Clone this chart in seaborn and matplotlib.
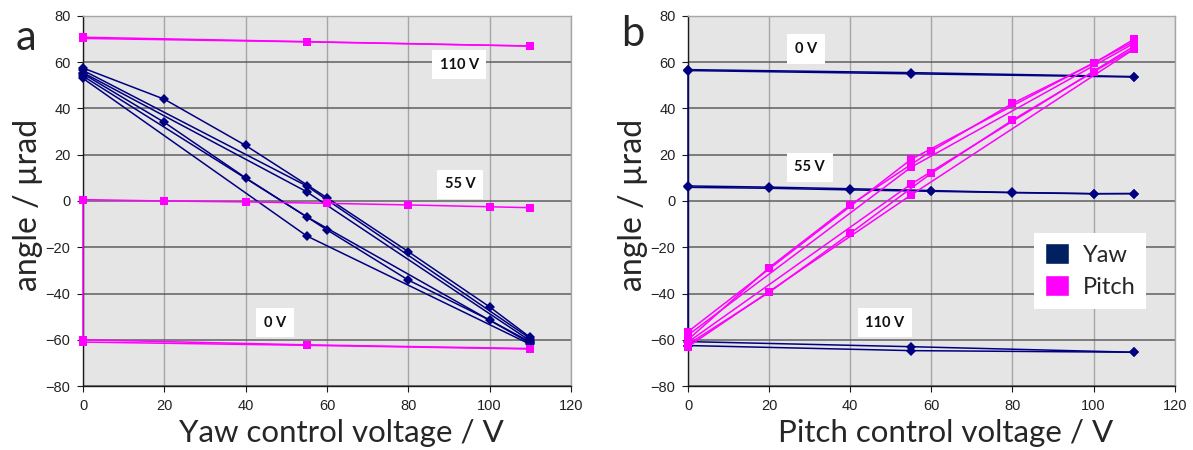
import matplotlib
matplotlib.use('Agg')
import matplotlib.pyplot as plt
from matplotlib.patches import Patch
import pandas as pd
import seaborn as sns

# control voltages used in the sweeps
v_steps = [0, 20, 40, 60, 80, 100, 110]
v_halves = [0, 55, 110]
v_retrace = [0, 0]

# panel a: yaw control voltage sweeps
a_yaw_steps = [[57.5, 44.0, 24.0, 1.4, -21.9, -45.8, -59.0],
               [55.0, 34.0, 10.0, -12.5, -34.2, -51.5, -61.0]]
a_yaw_halves = [[56.5, 6.5, -59.5], [55.5, 4.0, -60.5],
                [54.0, -6.8, -61.5], [53.0, -15.1, -62.0]]
a_pitch_steps = [[0.6, 0.0, -0.4, -1.0, -1.7, -2.5, -2.9]]
a_pitch_halves = [[70.8, 68.9, 67.0], [70.3, 68.8, 67.0],
                  [-60.0, -62.2, -63.8], [-61.0, -62.4, -64.0]]
a_pitch_retrace = [[0.6, -60.0]]
a_notes = ['110 V', '55 V', '0 V']
a_note_x = [92.5, 92.7, 47.2]
a_note_y = [59.0, 7.3, -52.7]

# panel b: pitch control voltage sweeps
b_yaw_steps = [[6.5, 6.0, 5.3, 4.5, 3.7, 3.2, 3.2],
               [5.9, 5.5, 4.8, 4.2, 3.6, 3.1, 3.2]]
b_yaw_halves = [[56.8, 55.5, 53.8], [56.4, 55.0, 53.6],
                [-60.8, -63.0, -65.4], [-62.5, -64.7, -65.4]]
b_yaw_retrace = [[56.8, -62.5]]
b_pitch_steps = [[-60.0, -28.8, -1.7, 21.6, 42.2, 59.5, 70.0],
                 [-62.0, -39.5, -14.0, 12.0, 35.0, 55.9, 66.0]]
b_pitch_halves = [[-56.5, 18.0, 69.0], [-58.0, 14.6, 68.2],
                  [-61.0, 7.3, 67.0], [-63.0, 2.6, 65.7]]
b_notes = ['0 V', '55 V', '110 V']
b_note_x = [29.1, 30.0, 48.5]
b_note_y = [65.7, 14.5, -52.7]

YAW = '#000080'
PITCH = '#ff00ff'

sns.set_theme(style='white')
plt.rcParams['font.family'] = ['Liberation Sans', 'DejaVu Sans']
LABEL_FONT = ['Lato', 'DejaVu Sans']


def draw_sweeps(ax, xs, sweeps, color, marker, ms):
    rows = [(i, x, y) for i, ys in enumerate(sweeps) for x, y in zip(xs, ys)]
    df = pd.DataFrame(rows, columns=['sweep', 'volt', 'angle'])
    sns.lineplot(data=df, x='volt', y='angle', units='sweep', estimator=None,
                 sort=False, color=color, marker=marker, markersize=ms,
                 markeredgewidth=0, linewidth=1.1, clip_on=False, zorder=3,
                 legend=False, ax=ax)


def style_axes(ax, xlabel):
    ax.set_facecolor('#e5e5e5')
    ax.set_xlim(0, 120)
    ax.set_ylim(-80, 80)
    ax.set_xticks(range(0, 121, 20))
    ax.set_yticks(range(-80, 81, 20))
    ax.xaxis.grid(True, color='#a6a6a6', linewidth=1.0)
    ax.yaxis.grid(True, color='#5f5f5f', linewidth=1.1)
    ax.set_axisbelow(True)
    for side in ['left', 'bottom']:
        ax.spines[side].set_color('#1a1a1a')
        ax.spines[side].set_linewidth(1.0)
    for side in ['top', 'right']:
        ax.spines[side].set_color('#a6a6a6')
        ax.spines[side].set_linewidth(1.0)
    ax.tick_params(axis='both', direction='out', length=4, width=0.8,
                   color='#1a1a1a', labelsize=10.5, labelcolor='#222222',
                   left=True, bottom=True, pad=5)
    ax.set_xlabel(xlabel, fontsize=22.5, family=LABEL_FONT, va='top')
    ax.xaxis.set_label_coords(0.53, -0.088)
    ax.set_ylabel('angle / µrad', fontsize=23, family=LABEL_FONT, va='center')
    ax.yaxis.set_label_coords(-0.112, 0.49)


def add_notes(ax, labels, xs, ys):
    for lab, x, y in zip(labels, xs, ys):
        ax.text(x, y, lab, ha='center', va='center', fontsize=10.5,
                fontweight='bold', family=LABEL_FONT, color='#111111',
                bbox=dict(facecolor='white', edgecolor='none', pad=5.5))


fig = plt.figure(figsize=(11.93, 4.5), dpi=100)
ax_a = fig.add_axes([0.0696, 0.1422, 0.409, 0.8223])
ax_b = fig.add_axes([0.5767, 0.1422, 0.408, 0.8223])

# panel a
draw_sweeps(ax_a, v_steps, a_yaw_steps, YAW, 'D', 5)
draw_sweeps(ax_a, v_halves, a_yaw_halves, YAW, 'D', 5)
draw_sweeps(ax_a, v_steps, a_pitch_steps, PITCH, 's', 6)
draw_sweeps(ax_a, v_halves, a_pitch_halves, PITCH, 's', 6)
draw_sweeps(ax_a, v_retrace, a_pitch_retrace, PITCH, 's', 6)
style_axes(ax_a, 'Yaw control voltage / V')
add_notes(ax_a, a_notes, a_note_x, a_note_y)

# panel b
draw_sweeps(ax_b, v_steps, b_yaw_steps, YAW, 'D', 5)
draw_sweeps(ax_b, v_halves, b_yaw_halves, YAW, 'D', 5)
draw_sweeps(ax_b, v_retrace, b_yaw_retrace, YAW, 'D', 5)
draw_sweeps(ax_b, v_steps, b_pitch_steps, PITCH, 's', 6)
draw_sweeps(ax_b, v_halves, b_pitch_halves, PITCH, 's', 6)
style_axes(ax_b, 'Pitch control voltage / V')
add_notes(ax_b, b_notes, b_note_x, b_note_y)

handles = [Patch(facecolor='#002060', label='Yaw'),
           Patch(facecolor=PITCH, label='Pitch')]
leg = ax_b.legend(handles=handles, loc='center', bbox_to_anchor=(0.8265, 0.312),
                  frameon=True, fancybox=False, framealpha=1, edgecolor='none',
                  handlelength=1.0, handleheight=1.0, handletextpad=0.6,
                  labelspacing=0.4, borderpad=0.45,
                  prop={'family': LABEL_FONT, 'size': 17})
leg.set_zorder(5)

fig.text(0.022, 0.915, 'a', fontsize=30, family=LABEL_FONT, ha='center', va='center')
fig.text(0.530, 0.925, 'b', fontsize=30, family=LABEL_FONT, ha='center', va='center')

fig.savefig('out.png', dpi=100)
